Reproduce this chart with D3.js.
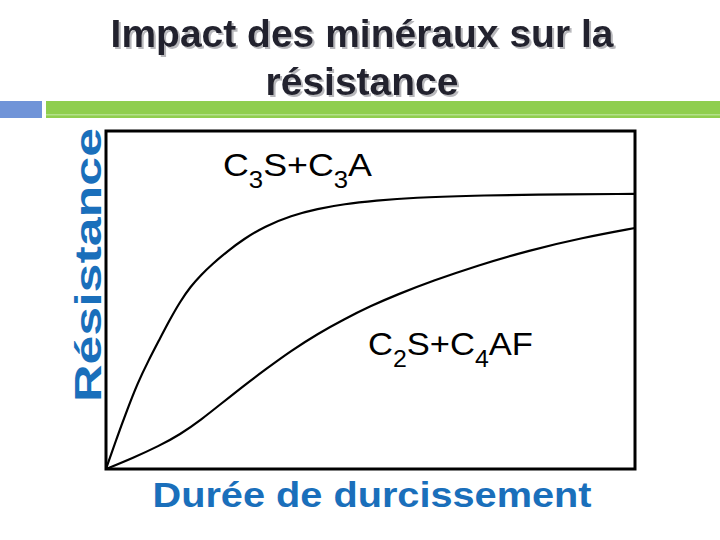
<!DOCTYPE html>
<html>
<head>
<meta charset="utf-8">
<script src="https://cdn.jsdelivr.net/npm/d3@7"></script>
<style>
  html, body { margin: 0; padding: 0; background: #fff; }
  svg { display: block; }
</style>
</head>
<body>
<div id="chart"></div>
<script>
// Résistance (0..100) en fonction de la durée (0..100)
const timeC3 = [0, 2, 4, 6, 8, 10, 12, 14, 16, 18, 20, 23, 26, 30, 35, 40, 45, 51, 58, 70, 80, 100];
const resC3 = [0, 9, 17.5, 25.5, 32, 38, 44, 49.5, 54, 57.5, 60.5, 64.5, 68, 71.8, 75, 77, 78.4, 79.4, 80.3, 80.9, 81.2, 81.4];

const timeC2 = [0, 5, 10, 14, 18, 22, 26, 30, 35, 40, 45, 50, 55, 62, 70, 80, 90, 100];
const resC2 = [0, 3.2, 6.8, 10.2, 14.6, 19.6, 24.6, 29.3, 35, 40, 44.3, 48.2, 51.6, 55.8, 60.1, 64.7, 68.4, 71.3];

const titleLines = ["Impact des minéraux sur la", "résistance"];
const xLabel = "Durée de durcissement";
const yLabel = "Résistance";

const width = 720;
const height = 540;
const box = { left: 106, top: 131, right: 635, bottom: 469 };

const svg = d3.select("#chart")
  .append("svg")
  .attr("width", width)
  .attr("height", height);

// ombre portée du titre
const defs = svg.append("defs");
defs.append("filter")
  .attr("id", "shadow")
  .attr("x", "-5%").attr("y", "-20%")
  .attr("width", "110%").attr("height", "140%")
  .append("feDropShadow")
  .attr("dx", 2).attr("dy", 2)
  .attr("stdDeviation", 0.6)
  .attr("flood-color", "#9a9aa0")
  .attr("flood-opacity", 0.7);

// bandeau de la diapo
svg.append("rect")
  .attr("x", 0).attr("y", 101)
  .attr("width", 42).attr("height", 17)
  .attr("fill", "#7094d8");
svg.append("rect")
  .attr("x", 46).attr("y", 101)
  .attr("width", width - 46).attr("height", 17)
  .attr("fill", "#8fce4e");
svg.append("rect")
  .attr("x", 46).attr("y", 114)
  .attr("width", width - 46).attr("height", 1.5)
  .attr("fill", "#b4e08a");

// titre
const title = svg.append("g")
  .attr("font-family", "Liberation Sans, Arial, sans-serif")
  .attr("font-weight", "bold")
  .attr("font-size", 39)
  .attr("text-anchor", "middle")
  .attr("fill", "#22222e")
  .attr("filter", "url(#shadow)");

titleLines.forEach((t, i) => {
  title.append("text")
    .attr("x", 362).attr("y", 47 + i * 48)
    .text(t);
});

// échelles
const x = d3.scaleLinear().domain([0, 100]).range([box.left, box.right]);
const y = d3.scaleLinear().domain([0, 100]).range([box.bottom, box.top]);

const line = d3.line()
  .x(d => x(d[0]))
  .y(d => y(d[1]))
  .curve(d3.curveBasis);

const g = svg.append("g");

g.append("path")
  .datum(d3.zip(timeC3, resC3))
  .attr("fill", "none")
  .attr("stroke", "#000")
  .attr("stroke-width", 2.2)
  .attr("d", line);

g.append("path")
  .datum(d3.zip(timeC2, resC2))
  .attr("fill", "none")
  .attr("stroke", "#000")
  .attr("stroke-width", 2.2)
  .attr("d", line);

// cadre
g.append("rect")
  .attr("x", x(0)).attr("y", y(100))
  .attr("width", x(100) - x(0))
  .attr("height", y(0) - y(100))
  .attr("fill", "none")
  .attr("stroke", "#000")
  .attr("stroke-width", 3);

// étiquettes des courbes (avec indices)
function formula(parent, px, py, len, parts) {
  const t = parent.append("text")
    .attr("x", px).attr("y", py)
    .attr("font-family", "Liberation Sans, Arial, sans-serif")
    .attr("font-size", 32)
    .attr("fill", "#000")
    .attr("textLength", len)
    .attr("lengthAdjust", "spacingAndGlyphs");
  let down = false;
  parts.forEach(p => {
    const s = t.append("tspan");
    if (p.sub) {
      s.attr("font-size", 23).attr("dy", 12).text(p.sub);
      down = true;
    } else {
      if (down) s.attr("dy", -12);
      down = false;
      s.text(p.txt);
    }
  });
}

formula(g, 223, 176, 149, [{ txt: "C" }, { sub: "3" }, { txt: "S+C" }, { sub: "3" }, { txt: "A" }]);
formula(g, 368, 355, 165, [{ txt: "C" }, { sub: "2" }, { txt: "S+C" }, { sub: "4" }, { txt: "AF" }]);

// titres des axes
svg.append("text")
  .attr("transform", "translate(101, 265) rotate(-90)")
  .attr("text-anchor", "middle")
  .attr("font-family", "Liberation Sans, Arial, sans-serif")
  .attr("font-weight", "bold")
  .attr("font-size", 36)
  .attr("fill", "#1a6fbb")
  .attr("textLength", 274)
  .attr("lengthAdjust", "spacingAndGlyphs")
  .text(yLabel);

svg.append("text")
  .attr("x", 372).attr("y", 507)
  .attr("text-anchor", "middle")
  .attr("font-family", "Liberation Sans, Arial, sans-serif")
  .attr("font-weight", "bold")
  .attr("font-size", 35)
  .attr("fill", "#1a6fbb")
  .attr("textLength", 439)
  .attr("lengthAdjust", "spacingAndGlyphs")
  .text(xLabel);
</script>
</body>
</html>
